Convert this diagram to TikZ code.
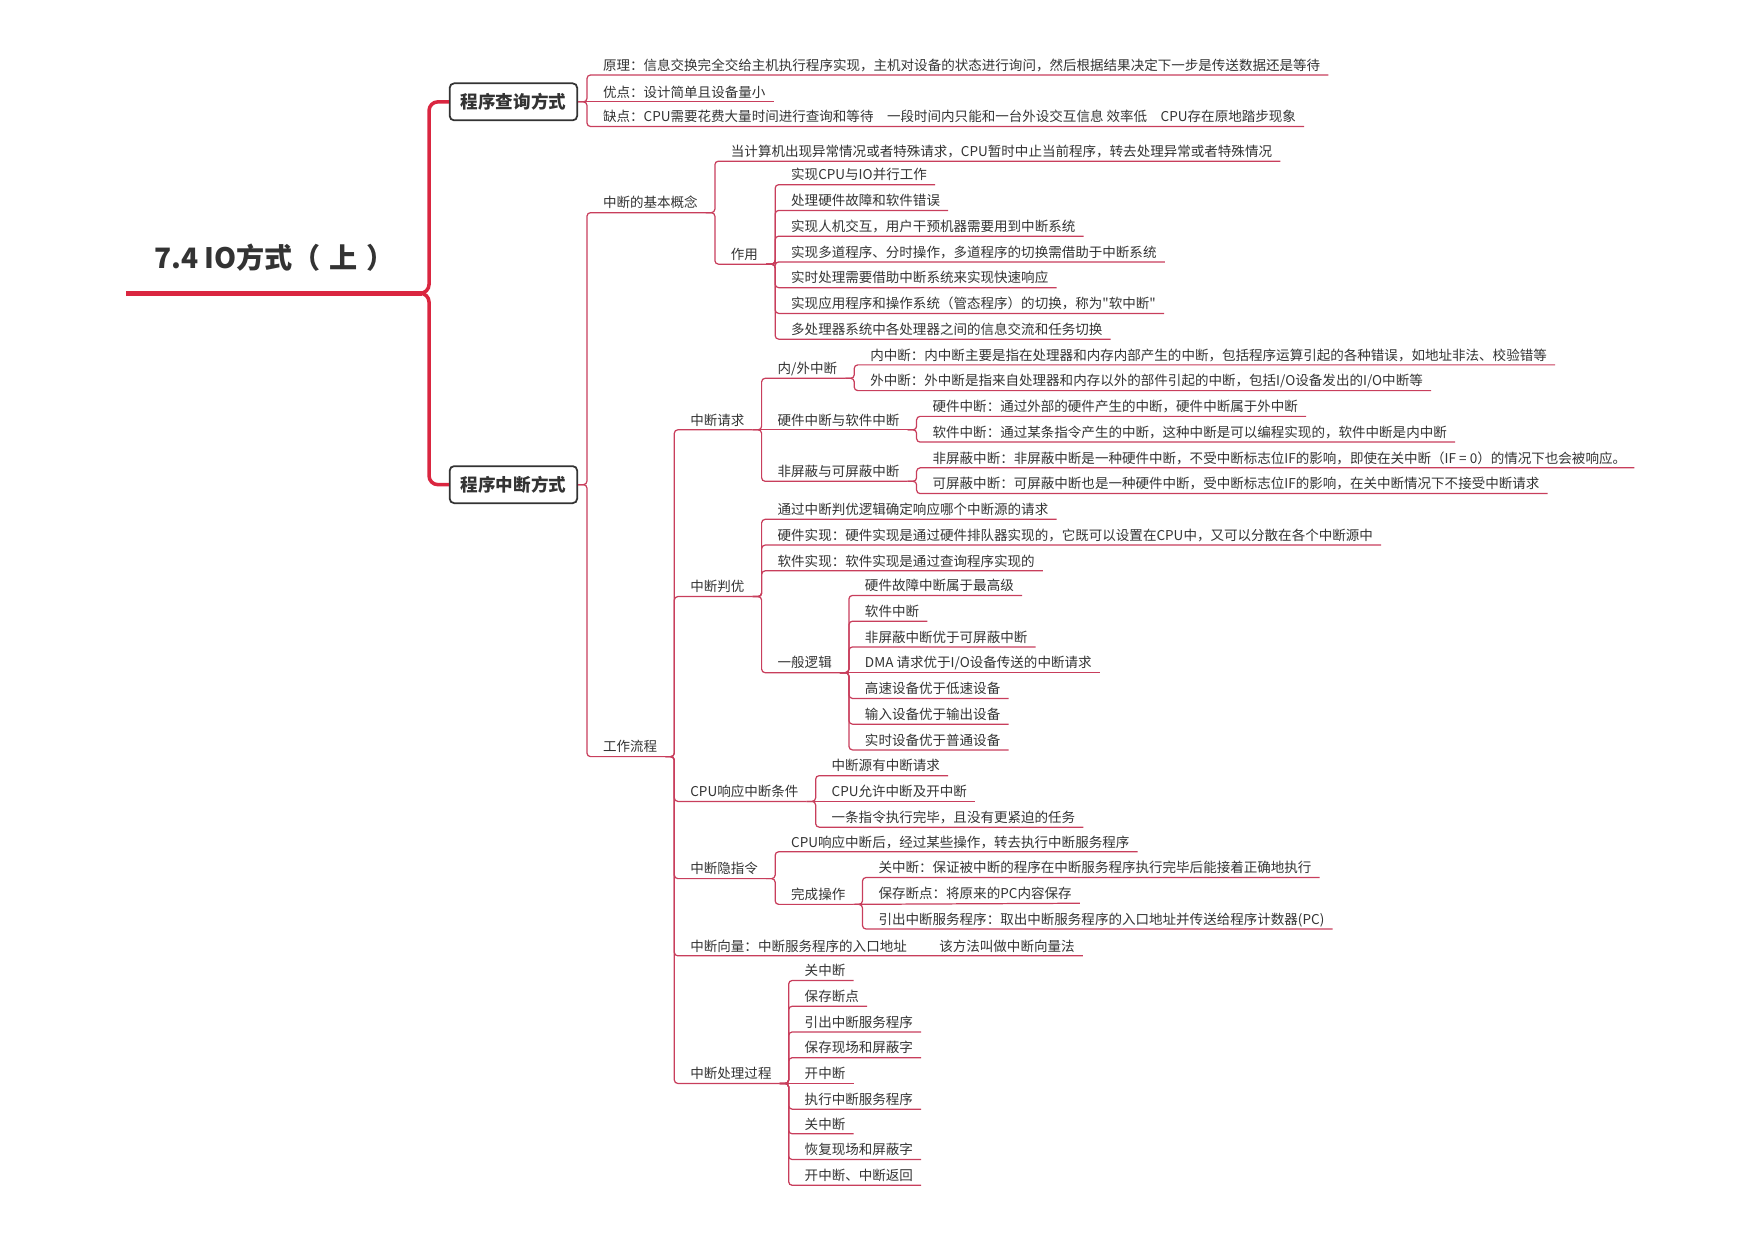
\documentclass[tikz,border=0pt]{standalone}
\usepackage{fontspec}
\newfontfamily\cjk{Noto Sans CJK SC}
\usetikzlibrary{positioning}

\definecolor{linkred}{RGB}{200,62,92}
\definecolor{rootred}{RGB}{218,38,64}
\definecolor{inkgray}{RGB}{51,51,51}

\tikzset{
  leaf/.style={font=\cjk\fontsize{7.7}{9}\selectfont, text=inkgray, anchor=south west,
    xshift=0.3358cm, inner xsep=0.157cm, inner ysep=1.1pt, text height=6.6pt, text depth=1.4pt},
  link/.style={draw=linkred, line width=0.7pt, rounded corners=2pt},
  mainbox/.style={draw=inkgray, line width=1pt, rounded corners=2.5pt, fill=white,
    font=\cjk\bfseries\fontsize{10}{12}\selectfont, text=inkgray, minimum height=0.74cm, inner xsep=0.22cm},
  title/.style={font=\cjk\bfseries\fontsize{16}{19}\selectfont, text=inkgray, anchor=south,
    minimum width=5.91cm, text depth=0pt, inner ysep=14pt},
  trunk/.style={draw=rootred, line width=2pt, rounded corners=5pt},
}

\begin{document}
\begin{tikzpicture}[x=0.022386cm, y=-0.022386cm]
\useasboundingbox (0,0) rectangle (1568,1108);

% root and the two main boxes
\node[title] (root) at (245,262) {7.4 IO方式（\hspace{0.3em}上\hspace{0.3em}）};
\node[mainbox, anchor=west] (poll) at (401,91) {程序查询方式};
\node[mainbox, anchor=west] (intr) at (401,433) {程序中断方式};
\draw[rootred, line width=2.6pt] (root.south west) -- (root.south east);
\draw[trunk] (root.south east) -- ++(6,0) |- (poll.west);
\draw[trunk] (root.south east) -- ++(6,0) |- (intr.west);

% 程序查询方式
\node[leaf] (pa) at (poll.east |- 0,67) {原理：信息交换完全交给主机执行程序实现，主机对设备的状态进行询问，然后根据结果决定下一步是传送数据还是等待};
\node[leaf] (pb) at (poll.east |- 0,91) {优点：设计简单且设备量小};
\node[leaf] (pc) at (poll.east |- 0,113) {缺点：CPU需要花费大量时间进行查询和等待\hspace{1em}一段时间内只能和一台外设交互信息 效率低\hspace{1em}CPU存在原地踏步现象};
\foreach \c in {pa,pc} \draw[link] (poll.east) -- ++(8,0) |- (\c.south east);
\draw[link] (poll.east) -- (pb.south east);

% 程序中断方式
\node[leaf] (ba) at (intr.east |- 0,190) {中断的基本概念};
\node[leaf] (wf) at (intr.east |- 0,676) {工作流程};
\foreach \c in {ba,wf} \draw[link] (intr.east) -- ++(8,0) |- (\c.south east);

% 中断的基本概念
\node[leaf] (def) at (ba.south east |- 0,144) {当计算机出现异常情况或者特殊请求，CPU暂时中止当前程序，转去处理异常或者特殊情况};
\node[leaf] (use) at (ba.south east |- 0,236) {作用};
\foreach \c in {def,use} \draw[link] (ba.south east) -- ++(8,0) |- (\c.south east);

\node[leaf] (use1) at (use.south east |- 0,165) {实现CPU与IO并行工作};
\node[leaf] (use2) at (use.south east |- 0,188) {处理硬件故障和软件错误};
\node[leaf] (use3) at (use.south east |- 0,211) {实现人机交互，用户干预机器需要用到中断系统};
\node[leaf] (use4) at (use.south east |- 0,234) {实现多道程序、分时操作，多道程序的切换需借助于中断系统};
\node[leaf] (use5) at (use.south east |- 0,257) {实时处理需要借助中断系统来实现快速响应};
\node[leaf] (use6) at (use.south east |- 0,280) {实现应用程序和操作系统（管态程序）的切换，称为"软中断"};
\node[leaf] (use7) at (use.south east |- 0,303) {多处理器系统中各处理器之间的信息交流和任务切换};
\foreach \c in {use1,use2,use3,use4,use5,use6,use7} \draw[link] (use.south east) -- ++(8,0) |- (\c.south east);

% 工作流程
\node[leaf] (rq) at (wf.south east |- 0,384) {中断请求};
\node[leaf] (pri) at (wf.south east |- 0,533) {中断判优};
\node[leaf] (cond) at (wf.south east |- 0,716) {CPU响应中断条件};
\node[leaf] (hid) at (wf.south east |- 0,785) {中断隐指令};
\node[leaf] (vec) at (wf.south east |- 0,854) {中断向量：中断服务程序的入口地址\hspace{2.4em}该方法叫做中断向量法};
\node[leaf] (proc) at (wf.south east |- 0,968) {中断处理过程};
\foreach \c in {rq,pri,cond,hid,vec,proc} \draw[link] (wf.south east) -- ++(8,0) |- (\c.south east);

% 中断请求
\node[leaf] (rq1) at (rq.south east |- 0,338) {内/外中断};
\node[leaf] (rq2) at (rq.south east |- 0,384) {硬件中断与软件中断};
\node[leaf] (rq3) at (rq.south east |- 0,430) {非屏蔽与可屏蔽中断};
\foreach \c in {rq1,rq3} \draw[link] (rq.south east) -- ++(8,0) |- (\c.south east);
\draw[link] (rq.south east) -- (rq2.south east);

\node[leaf] (in) at (rq1.south east |- 0,326) {内中断：内中断主要是指在处理器和内存内部产生的中断，包括程序运算引起的各种错误，如地址非法、校验错等};
\node[leaf] (out) at (rq1.south east |- 0,349) {外中断：外中断是指来自处理器和内存以外的部件引起的中断，包括I/O设备发出的I/O中断等};
\foreach \c in {in,out} \draw[link] (rq1.south east) -- ++(8,0) |- (\c.south east);

\node[leaf] (hw) at (rq2.south east |- 0,372) {硬件中断：通过外部的硬件产生的中断，硬件中断属于外中断};
\node[leaf] (sw) at (rq2.south east |- 0,395) {软件中断：通过某条指令产生的中断，这种中断是可以编程实现的，软件中断是内中断};
\foreach \c in {hw,sw} \draw[link] (rq2.south east) -- ++(8,0) |- (\c.south east);

\node[leaf] (nmi) at (rq3.south east |- 0,418) {非屏蔽中断：非屏蔽中断是一种硬件中断，不受中断标志位IF的影响，即使在关中断（IF = 0）的情况下也会被响应。};
\node[leaf] (mi) at (rq3.south east |- 0,441) {可屏蔽中断：可屏蔽中断也是一种硬件中断，受中断标志位IF的影响，在关中断情况下不接受中断请求};
\foreach \c in {nmi,mi} \draw[link] (rq3.south east) -- ++(8,0) |- (\c.south east);

% 中断判优
\node[leaf] (pri1) at (pri.south east |- 0,464) {通过中断判优逻辑确定响应哪个中断源的请求};
\node[leaf] (pri2) at (pri.south east |- 0,487) {硬件实现：硬件实现是通过硬件排队器实现的，它既可以设置在CPU中，又可以分散在各个中断源中};
\node[leaf] (pri3) at (pri.south east |- 0,510) {软件实现：软件实现是通过查询程序实现的};
\node[leaf] (pri4) at (pri.south east |- 0,601) {一般逻辑};
\foreach \c in {pri1,pri2,pri3,pri4} \draw[link] (pri.south east) -- ++(8,0) |- (\c.south east);

\node[leaf] (lg1) at (pri4.south east |- 0,532) {硬件故障中断属于最高级};
\node[leaf] (lg2) at (pri4.south east |- 0,555) {软件中断};
\node[leaf] (lg3) at (pri4.south east |- 0,578) {非屏蔽中断优于可屏蔽中断};
\node[leaf] (lg4) at (pri4.south east |- 0,601) {DMA 请求优于I/O设备传送的中断请求};
\node[leaf] (lg5) at (pri4.south east |- 0,624) {高速设备优于低速设备};
\node[leaf] (lg6) at (pri4.south east |- 0,647) {输入设备优于输出设备};
\node[leaf] (lg7) at (pri4.south east |- 0,670) {实时设备优于普通设备};
\foreach \c in {lg1,lg2,lg3,lg5,lg6,lg7} \draw[link] (pri4.south east) -- ++(8,0) |- (\c.south east);
\draw[link] (pri4.south east) -- (lg4.south east);

% CPU响应中断条件
\node[leaf] (cd1) at (cond.south east |- 0,693) {中断源有中断请求};
\node[leaf] (cd2) at (cond.south east |- 0,716) {CPU允许中断及开中断};
\node[leaf] (cd3) at (cond.south east |- 0,739) {一条指令执行完毕，且没有更紧迫的任务};
\foreach \c in {cd1,cd3} \draw[link] (cond.south east) -- ++(8,0) |- (\c.south east);
\draw[link] (cond.south east) -- (cd2.south east);

% 中断隐指令
\node[leaf] (hid1) at (hid.south east |- 0,761) {CPU响应中断后，经过某些操作，转去执行中断服务程序};
\node[leaf] (hid2) at (hid.south east |- 0,808) {完成操作};
\foreach \c in {hid1,hid2} \draw[link] (hid.south east) -- ++(8,0) |- (\c.south east);

\node[leaf] (op1) at (hid2.south east |- 0,784) {关中断：保证被中断的程序在中断服务程序执行完毕后能接着正确地执行};
\node[leaf] (op2) at (hid2.south east |- 0,807) {保存断点：将原来的PC内容保存};
\node[leaf] (op3) at (hid2.south east |- 0,830) {引出中断服务程序：取出中断服务程序的入口地址并传送给程序计数器(PC)};
\foreach \c in {op1,op3} \draw[link] (hid2.south east) -- ++(8,0) |- (\c.south east);
\draw[link] (hid2.south east) -- (op2.south east);

% 中断处理过程
\node[leaf] (st1) at (proc.south east |- 0,876) {关中断};
\node[leaf] (st2) at (proc.south east |- 0,899) {保存断点};
\node[leaf] (st3) at (proc.south east |- 0,922) {引出中断服务程序};
\node[leaf] (st4) at (proc.south east |- 0,945) {保存现场和屏蔽字};
\node[leaf] (st5) at (proc.south east |- 0,968) {开中断};
\node[leaf] (st6) at (proc.south east |- 0,991) {执行中断服务程序};
\node[leaf] (st7) at (proc.south east |- 0,1013) {关中断};
\node[leaf] (st8) at (proc.south east |- 0,1036) {恢复现场和屏蔽字};
\node[leaf] (st9) at (proc.south east |- 0,1059) {开中断、中断返回};
\foreach \c in {st1,st2,st3,st4,st6,st7,st8,st9} \draw[link] (proc.south east) -- ++(8,0) |- (\c.south east);
\draw[link] (proc.south east) -- (st5.south east);

\end{tikzpicture}
\end{document}
